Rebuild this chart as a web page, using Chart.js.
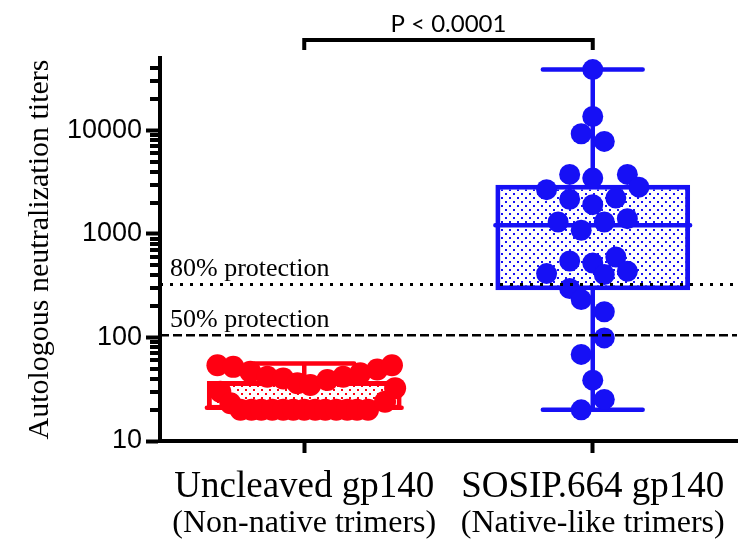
<!DOCTYPE html>
<html>
<head>
<meta charset="utf-8">
<script src="https://cdn.jsdelivr.net/npm/chart.js@4.4.0/dist/chart.umd.min.js"></script>
<style>
html,body{margin:0;padding:0;background:#fff;}
#wrap{width:749px;height:539px;position:relative;}
</style>
</head>
<body>
<div id="wrap"><canvas id="c"></canvas></div>
<script>
// ---------------- data ----------------
const categoryTitles = ["Uncleaved gp140", "SOSIP.664 gp140"];
const categorySubtitles = ["(Non-native trimers)", "(Native-like trimers)"];
const yAxisTitle = "Autologous neutralization titers";
const yTickValues = [10, 100, 1000, 10000];
const pValueText = "P < 0.0001";
const protectionLevels = [325, 105];
const protectionLabels = ["80% protection", "50% protection"];

// individual titers
const uncleavedTiters = [54, 52, 46.6, 41.8, 40.2, 36.1, 34.7, 38.8, 41.7, 45, 49.1, 54,
                         29.9, 23.2, 20, 20, 20, 20, 20, 20, 20, 20, 20, 20, 20, 20, 20, 23.9, 32.4];
// horizontal scatter of each point, in category widths
const uncleavedSpread = [-0.301, -0.246, -0.187, -0.128, -0.073, -0.024, 0.021, 0.080, 0.135, 0.194, 0.253, 0.304,
                         -0.291, -0.256, -0.221, -0.183, -0.149, -0.111, -0.073, -0.038, 0, 0.038, 0.073, 0.111, 0.149, 0.183, 0.221, 0.280, 0.315];

const sosipTiters = [38660, 13600, 9270, 7820, 3757, 3460, 3757, 2675, 2830, 2158,
                     1918, 2220, 1304, 1084, 1304, 1403, 414, 548, 524, 598,
                     405, 436, 297, 232, 177, 99, 68.6, 38.7, 25.2, 20];
const sosipSpread = [0, 0, -0.04, 0.04, -0.08, 0, 0.12, -0.16, 0.16, -0.08,
                     0, 0.08, -0.12, -0.04, 0.04, 0.12, -0.16, -0.08, 0, 0.08,
                     0.04, 0.12, -0.08, -0.04, 0.04, 0.04, -0.04, 0, 0.04, -0.04];

// box statistics: [min, q1, median, q3, max]
const uncleavedBox = [20, 20, 21, 37.9, 56];
const sosipBox = [20, 286, 1210, 2980, 38660];

// ---------------- styles ----------------
const RED = 'rgb(255,0,18)';
const BLUE = 'rgb(22,16,245)';
const BOX_FRACTION = 0.675;   // box width as share of category spacing
const CAP_HALF = 0.173;       // whisker cap half width, category units
const SERIF = '"Liberation Serif", "Times New Roman", serif';
const SANS = '"Liberation Sans", Arial, sans-serif';

const canvas = document.getElementById('c');
const ctx0 = canvas.getContext('2d');
function dotPattern(color) {
  const c = document.createElement('canvas');
  c.width = 8; c.height = 8;
  const g = c.getContext('2d');
  g.fillStyle = '#fff'; g.fillRect(0, 0, 8, 8);
  g.fillStyle = color;
  g.fillRect(1, 1, 2, 2); g.fillRect(5, 5, 2, 2);
  return ctx0.createPattern(c, 'repeat');
}

function whiskerData(center, s) {
  const [mn, q1, med, q3, mx] = s;
  const h = BOX_FRACTION / 2;
  return [
    {x: center - CAP_HALF, y: mx}, {x: center + CAP_HALF, y: mx}, {x: center, y: null},
    {x: center, y: mx}, {x: center, y: q3}, {x: center, y: null},
    {x: center - h, y: med}, {x: center + h, y: med}, {x: center, y: null},
    {x: center, y: q1}, {x: center, y: mn}, {x: center, y: null},
    {x: center - CAP_HALF, y: mn}, {x: center + CAP_HALF, y: mn}
  ];
}

const minorTicks = [];
for (let d = 10; d <= 10000; d *= 10) {
  for (let m = 2; m <= 9; m++) { const v = m * d; if (v < 50000) minorTicks.push(v); }
}

const decorations = {
  id: 'decorations',
  afterDraw(chart) {
    const {ctx, chartArea, scales} = chart;
    const x = scales.x, y = scales.y;
    ctx.save();
    // minor ticks on y axis
    ctx.strokeStyle = '#000';
    ctx.lineWidth = 4;
    minorTicks.forEach(v => {
      const py = Math.round(y.getPixelForValue(v));
      ctx.beginPath();
      ctx.moveTo(chartArea.left - 10, py);
      ctx.lineTo(chartArea.left, py);
      ctx.stroke();
    });
    // protection labels
    ctx.fillStyle = '#000';
    ctx.font = '26px ' + SERIF;
    ctx.textAlign = 'left';
    ctx.textBaseline = 'alphabetic';
    protectionLevels.forEach((v, i) => {
      const py = y.getPixelForValue(v);
      ctx.fillText(protectionLabels[i], chartArea.left + 10, py - 8);
    });
    // significance bracket
    const x1 = x.getPixelForValue(1), x2 = x.getPixelForValue(2);
    const by = chartArea.top - 18;
    ctx.lineWidth = 4;
    ctx.lineJoin = 'miter';
    ctx.beginPath();
    ctx.moveTo(x1, chartArea.top - 8);
    ctx.lineTo(x1, by);
    ctx.lineTo(x2, by);
    ctx.lineTo(x2, chartArea.top - 8);
    ctx.stroke();
    ctx.font = '24px Lato, ' + SANS;
    ctx.textAlign = 'center';
    ctx.fillText(pValueText, (x1 + x2) / 2, chartArea.top - 26);
    ctx.restore();
  }
};

const categoryTicks = (scale) => { scale.ticks = [{value: 1}, {value: 2}]; };

new Chart(canvas, {
  type: 'scatter',
  data: {
    datasets: [
      {
        type: 'line',
        data: [{x: 0.5, y: protectionLevels[0]}, {x: 2.5, y: protectionLevels[0]}],
        borderColor: '#000', borderWidth: 3, borderDash: [3, 7],
        pointRadius: 0, fill: false, order: 0
      },
      {
        type: 'line',
        data: [{x: 0.5, y: protectionLevels[1]}, {x: 2.5, y: protectionLevels[1]}],
        borderColor: '#000', borderWidth: 2.5, borderDash: [9, 4],
        pointRadius: 0, fill: false, order: 0
      },
      {
        type: 'scatter',
        data: uncleavedTiters.map((v, i) => ({x: 1 + uncleavedSpread[i], y: v})),
        backgroundColor: RED, borderWidth: 0, pointRadius: 11, pointHoverRadius: 11, order: 1
      },
      {
        type: 'scatter',
        data: sosipTiters.map((v, i) => ({x: 2 + sosipSpread[i], y: v})),
        backgroundColor: BLUE, borderWidth: 0, pointRadius: 10.5, pointHoverRadius: 10.5, order: 1
      },
      {
        type: 'line',
        data: whiskerData(1, uncleavedBox),
        borderColor: RED, borderWidth: 4.5, borderCapStyle: 'round',
        pointRadius: 0, fill: false, spanGaps: false, order: 2
      },
      {
        type: 'line',
        data: whiskerData(2, sosipBox),
        borderColor: BLUE, borderWidth: 4.5, borderCapStyle: 'round',
        pointRadius: 0, fill: false, spanGaps: false, order: 2
      },
      {
        type: 'bar',
        data: [
          {x: 1, y: [uncleavedBox[1], uncleavedBox[3]]},
          {x: 2, y: [sosipBox[1], sosipBox[3]]}
        ],
        backgroundColor: [dotPattern(RED), dotPattern(BLUE)],
        borderColor: [RED, BLUE],
        borderWidth: 5,
        borderSkipped: false,
        barPercentage: BOX_FRACTION,
        categoryPercentage: 1,
        grouped: false,
        order: 3
      }
    ]
  },
  options: {
    responsive: true,
    maintainAspectRatio: false,
    animation: false,
    events: [],
    layout: {padding: {top: 58, right: 12, bottom: 0, left: 0}},
    plugins: {legend: {display: false}, tooltip: {enabled: false}},
    scales: {
      x: {
        type: 'linear', min: 0.5, max: 2.5, position: 'bottom', offset: false,
        afterBuildTicks: categoryTicks,
        afterFit: (scale) => { scale.height = 65; },
        grid: {offset: false, drawOnChartArea: false, drawTicks: true, tickLength: 12, tickWidth: 4, tickColor: '#000', color: '#000'},
        border: {display: true, width: 4, color: '#000'},
        ticks: {
          autoSkip: false, maxRotation: 0, padding: 16, color: '#000',
          font: {family: SERIF, size: 37, lineHeight: 1},
          callback: (v) => categoryTitles[Math.round(v) - 1]
        }
      },
      x2: {
        type: 'linear', min: 0.5, max: 2.5, position: 'bottom', offset: false,
        afterBuildTicks: categoryTicks,
        afterFit: (scale) => { scale.height = 33; },
        grid: {display: false, drawTicks: false, offset: false},
        border: {display: false},
        ticks: {
          autoSkip: false, maxRotation: 0, padding: 2, color: '#000',
          font: {family: SERIF, size: 32, lineHeight: 1},
          callback: (v) => categorySubtitles[Math.round(v) - 1]
        }
      },
      y: {
        type: 'logarithmic', min: 10, max: 50000,
        afterBuildTicks: (scale) => { scale.ticks = yTickValues.map(v => ({value: v, major: true})); },
        afterFit: (scale) => { scale.width = 160; },
        grid: {drawOnChartArea: false, drawTicks: true, tickLength: 14, tickWidth: 4, tickColor: '#000', color: '#000'},
        border: {display: true, width: 4, color: '#000'},
        ticks: {
          color: '#000', padding: 4,
          font: {family: SANS, size: 27},
          callback: (v) => String(v)
        },
        title: {
          display: true, text: yAxisTitle, color: '#000',
          font: {family: SERIF, size: 30},
          padding: {top: 22, bottom: 0}
        }
      }
    }
  },
  plugins: [decorations]
});
</script>
</body>
</html>
